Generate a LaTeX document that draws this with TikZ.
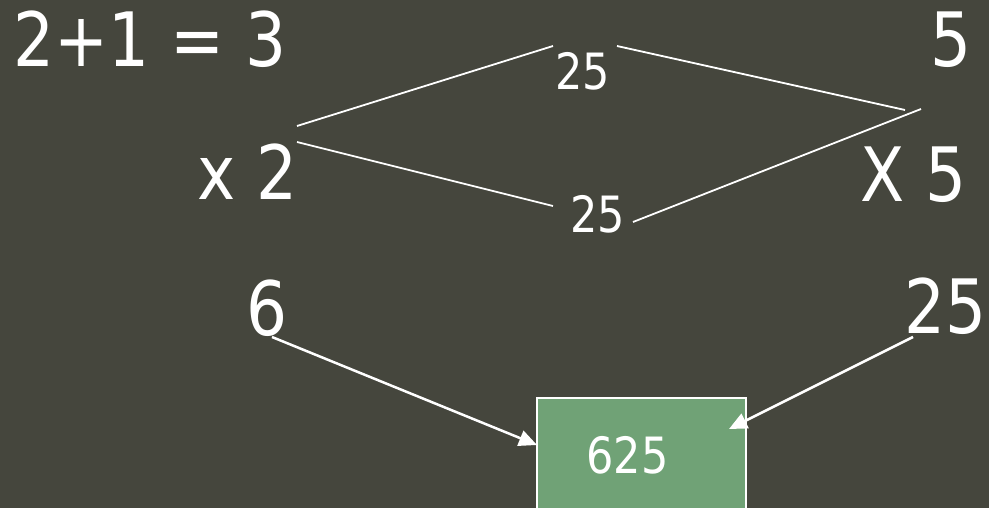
\documentclass[tikz,border=0pt]{standalone}
\usepackage{fontspec}
\setmainfont[FakeStretch=0.86]{DejaVu Sans}
\usetikzlibrary{arrows.meta}
\definecolor{bgc}{HTML}{45463D}
\definecolor{boxc}{HTML}{70A276}
\begin{document}
\begin{tikzpicture}[x=1pt,y=-1pt,
  big/.style={text=white,inner sep=0pt,anchor=base,font=\fontsize{75}{80}\selectfont},
  small/.style={text=white,inner sep=0pt,anchor=base,font=\fontsize{50}{56}\selectfont},
  thin/.style={white,line width=1.8pt},
  arr/.style={white,line width=2.5pt,-{Triangle[length=18pt,width=16pt]}},
  resbox/.style={fill=boxc,draw=white,line width=1.8pt}]
\fill[bgc] (0,0) rectangle (989,508);
\useasboundingbox (0,0) rectangle (989,508);
% result box
\path[resbox] (537,398) rectangle (746,530);
\node[small] (res) at (627.5,473) {625};
% texts
\node[big] (sum) at (150,67) {2+1 = 3};
\node[big] (five) at (951,67) {5};
\node[big] (x2) at (247.5,200) {x 2};
\node[big] (X5) at (913.5,202) {X 5};
\node[small] (u25) at (582.5,90) {25};
\node[small] (l25) at (598,233) {25};
\node[big] (six) at (267,335) {6};
\node[big] (r25) at (946,333) {25};
% connector end points
\coordinate (a1) at (297,126);
\coordinate (a2) at (553,46);
\coordinate (b1) at (297,142);
\coordinate (b2) at (553,206);
\coordinate (c1) at (617,46);
\coordinate (c2) at (905,110);
\coordinate (d1) at (633,222);
\coordinate (d2) at (921,109);
\coordinate (e1) at (272,337);
\coordinate (e2) at (537,445);
\coordinate (f1) at (913,337);
\coordinate (f2) at (729,429);
\draw[thin] (a1) -- (a2);
\draw[thin] (b1) -- (b2);
\draw[thin] (c1) -- (c2);
\draw[thin] (d1) -- (d2);
\draw[arr] (e1) -- (e2);
\draw[arr] (f1) -- (f2);
\end{tikzpicture}
\end{document}
